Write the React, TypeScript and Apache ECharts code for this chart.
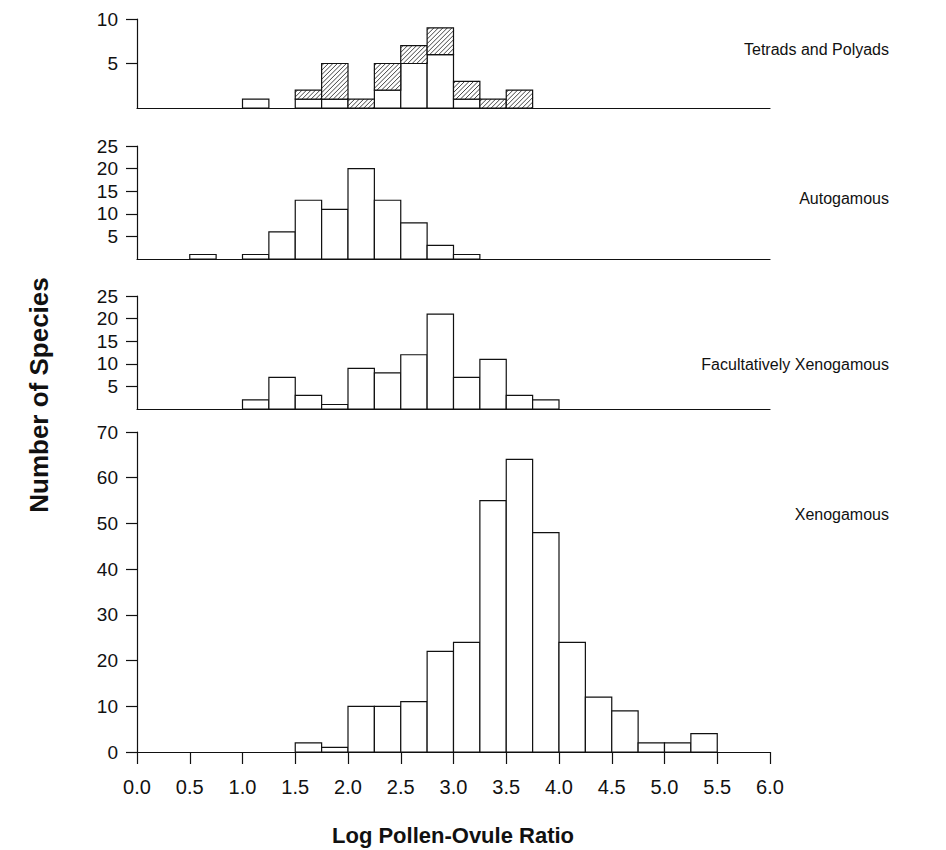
import React, { useEffect, useRef } from "react";
import * as echarts from "echarts";

// Histogram bins of Log Pollen-Ovule Ratio (bin start, width 0.25)
const binStarts = [
  0.0, 0.25, 0.5, 0.75, 1.0, 1.25, 1.5, 1.75, 2.0, 2.25, 2.5, 2.75,
  3.0, 3.25, 3.5, 3.75, 4.0, 4.25, 4.5, 4.75, 5.0, 5.25, 5.5, 5.75,
];
const BIN = 0.25;

// Tetrads and Polyads: plain (white) part and hatched part stacked on top
const tetradsPlain = [0, 0, 0, 0, 1, 0, 1, 1, 0, 2, 5, 6, 1, 0, 0, 0, 0, 0, 0, 0, 0, 0, 0, 0];
const tetradsHatched = [0, 0, 0, 0, 0, 0, 1, 4, 1, 3, 2, 3, 2, 1, 2, 0, 0, 0, 0, 0, 0, 0, 0, 0];
const autogamous = [0, 0, 1, 0, 1, 6, 13, 11, 20, 13, 8, 3, 1, 0, 0, 0, 0, 0, 0, 0, 0, 0, 0, 0];
const facultative = [0, 0, 0, 0, 2, 7, 3, 1, 9, 8, 12, 21, 7, 11, 3, 2, 0, 0, 0, 0, 0, 0, 0, 0];
const xenogamous = [0, 0, 0, 0, 0, 0, 2, 1, 10, 10, 11, 22, 24, 55, 64, 48, 24, 12, 9, 2, 2, 4, 0, 0];

const panelNames = ["Tetrads and Polyads", "Autogamous", "Facultatively Xenogamous", "Xenogamous"];
const yMax = [10, 25, 25, 70];
const yTicks = [
  [5, 10],
  [5, 10, 15, 20, 25],
  [5, 10, 15, 20, 25],
  [0, 10, 20, 30, 40, 50, 60, 70],
];
const xTicks = [0, 0.5, 1, 1.5, 2, 2.5, 3, 3.5, 4, 4.5, 5, 5.5, 6];
const xTitle = "Log Pollen-Ovule Ratio";
const yTitle = "Number of Species";

const FONT = "'Liberation Sans', Arial, Helvetica, sans-serif";
const INK = "#111";

const grids = [
  { top: 19, height: 89 },
  { top: 146, height: 113 },
  { top: 296, height: 113 },
  { top: 432, height: 320 },
];
const labelY = [50, 199, 365, 515];

function plainRender(params: any, api: any) {
  const x0 = api.value(0);
  const lo = api.value(1);
  const hi = api.value(2);
  if (!(hi > lo)) return null;
  const p0 = api.coord([x0, lo]);
  const p1 = api.coord([x0 + BIN, hi]);
  return {
    type: "rect",
    shape: { x: p0[0], y: p1[1], width: p1[0] - p0[0], height: p0[1] - p1[1] },
    style: { fill: "#fff", stroke: INK, lineWidth: 1.2 },
  };
}

function hatchRender(params: any, api: any) {
  const x0 = api.value(0);
  const lo = api.value(1);
  const hi = api.value(2);
  if (!(hi > lo)) return null;
  const p0 = api.coord([x0, lo]);
  const p1 = api.coord([x0 + BIN, hi]);
  const L = p0[0], R = p1[0], T = p1[1], B = p0[1];
  const children: any[] = [
    { type: "rect", shape: { x: L, y: T, width: R - L, height: B - T }, style: { fill: "#fff", stroke: "none" } },
  ];
  const step = 4.5;
  for (let k = L + T + step / 2; k < R + B; k += step) {
    const xs = Math.max(L, k - B);
    const xe = Math.min(R, k - T);
    if (xe - xs > 0.3) {
      children.push({
        type: "line",
        shape: { x1: xs, y1: k - xs, x2: xe, y2: k - xe },
        style: { stroke: INK, lineWidth: 0.8 },
      });
    }
  }
  children.push({
    type: "rect",
    shape: { x: L, y: T, width: R - L, height: B - T },
    style: { fill: "none", stroke: INK, lineWidth: 1.2 },
  });
  return { type: "group", children };
}

export default function App() {
  const ref = useRef<HTMLDivElement>(null);
  useEffect(() => {
    if (!ref.current) return;
    const chart = echarts.init(ref.current, undefined, { renderer: "svg" });

    const panels = [
      { plain: tetradsPlain, hatched: tetradsHatched },
      { plain: autogamous },
      { plain: facultative },
      { plain: xenogamous },
    ];

    const series: any[] = [];
    panels.forEach((p: any, i: number) => {
      series.push({
        type: "custom",
        xAxisIndex: i,
        yAxisIndex: i,
        renderItem: plainRender,
        data: binStarts.map((b, j) => [b, 0, p.plain[j]]),
        silent: true,
      });
      if (p.hatched) {
        series.push({
          type: "custom",
          xAxisIndex: i,
          yAxisIndex: i,
          renderItem: hatchRender,
          data: binStarts.map((b, j) => [b, p.plain[j], p.plain[j] + p.hatched[j]]),
          silent: true,
        });
      }
    });

    const last = 3;
    const option: any = {
      animation: false,
      backgroundColor: "#fff",
      grid: grids.map((g) => ({ left: 137, width: 633, top: g.top, height: g.height })),
      xAxis: grids.map((g, i) => ({
        type: "value",
        gridIndex: i,
        min: 0,
        max: 6,
        interval: 0.5,
        axisLine: { show: true, onZero: false, lineStyle: { color: INK, width: 1.2 } },
        axisTick: {
          show: i === last,
          length: 12,
          customValues: xTicks,
          lineStyle: { color: INK, width: 1.2 },
        },
        axisLabel: {
          show: i === last,
          customValues: xTicks,
          formatter: (v: number) => v.toFixed(1),
          margin: 25,
          fontSize: 20,
          fontFamily: FONT,
          color: INK,
        },
        splitLine: { show: false },
      })),
      yAxis: grids.map((g, i) => ({
        type: "value",
        gridIndex: i,
        min: 0,
        max: yMax[i],
        interval: i === last ? 10 : 5,
        axisLine: { show: true, lineStyle: { color: INK, width: 1.2 } },
        axisTick: { show: true, length: 11, customValues: yTicks[i], lineStyle: { color: INK, width: 1.2 } },
        axisLabel: {
          customValues: yTicks[i],
          margin: 19,
          fontSize: 19,
          fontFamily: FONT,
          color: INK,
        },
        splitLine: { show: false },
      })),
      graphic: [
        ...panelNames.map((n, i) => ({
          type: "text",
          right: 946 - 889,
          top: labelY[i] - 9,
          style: { text: n, font: `16px ${FONT}`, fill: INK, textAlign: "right" },
        })),
        {
          type: "text",
          x: 453,
          y: 835,
          style: {
            text: xTitle,
            font: `bold 22px ${FONT}`,
            fill: INK,
            textAlign: "center",
            textVerticalAlign: "middle",
          },
        },
        {
          type: "text",
          x: 39,
          y: 395,
          rotation: Math.PI / 2,
          style: {
            text: yTitle,
            font: `bold 26px ${FONT}`,
            fill: INK,
            textAlign: "center",
            textVerticalAlign: "middle",
          },
        },
      ],
      series,
    };
    chart.setOption(option);
    return () => chart.dispose();
  }, []);

  return (
    <div
      ref={ref}
      style={{ position: "absolute", left: 0, top: 0, width: 946, height: 850 }}
    />
  );
}
